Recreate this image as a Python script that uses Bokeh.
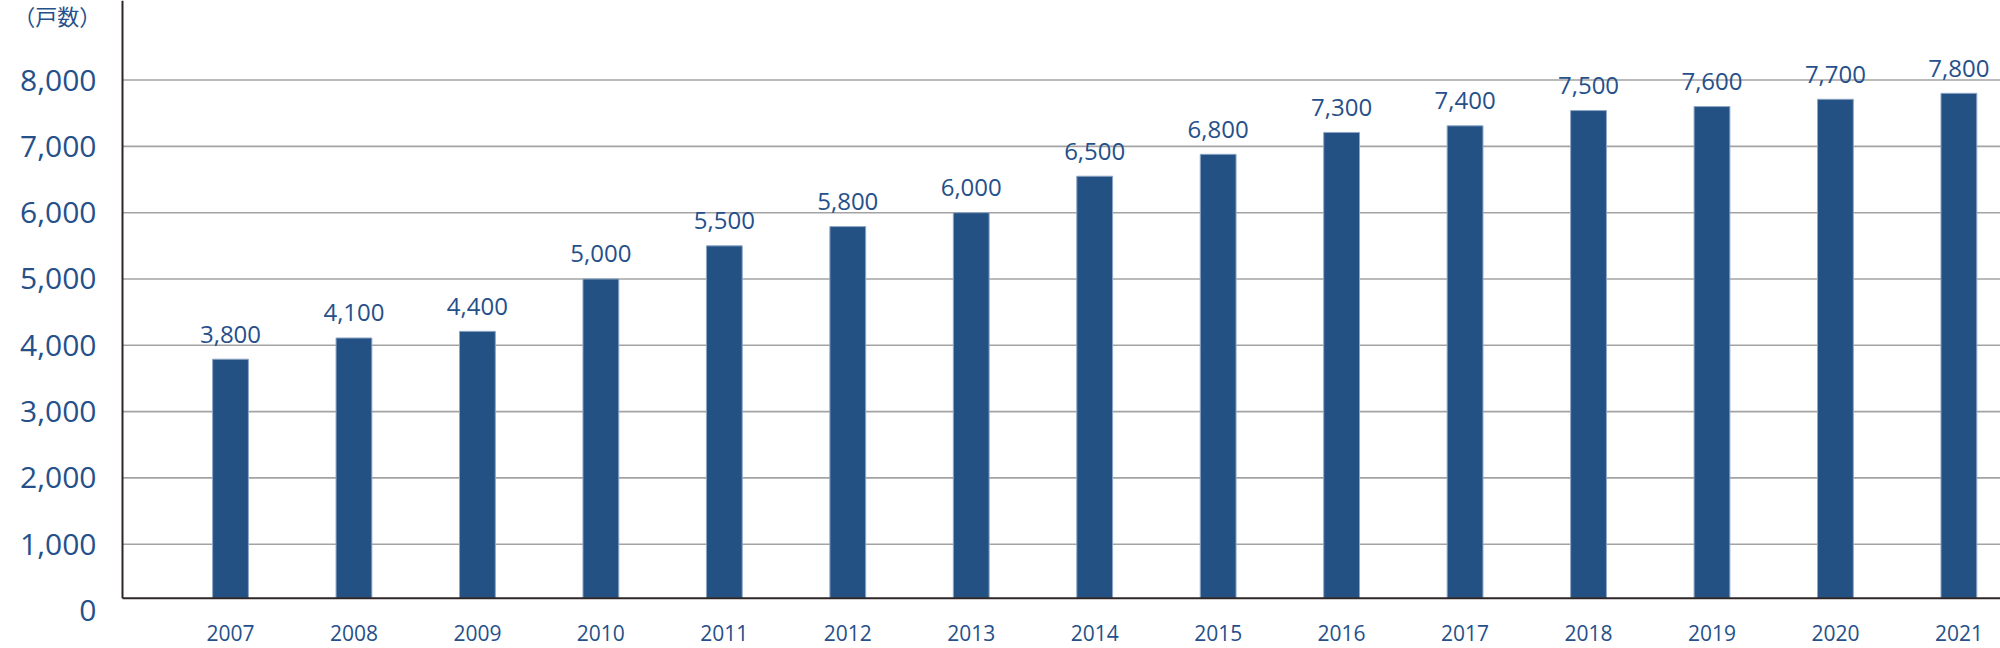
from bokeh.plotting import figure
from bokeh.models import Range1d, FixedTicker, Label, ColumnDataSource
from bokeh.core.properties import value
from bokeh.embed import file_html
from bokeh.resources import INLINE

years = ["2007", "2008", "2009", "2010", "2011", "2012", "2013", "2014",
         "2015", "2016", "2017", "2018", "2019", "2020", "2021"]
bar_values = [3790, 4110, 4210, 5000, 5500, 5790, 6000, 6550,
              6880, 7210, 7310, 7540, 7600, 7710, 7800]
value_labels = ["3,800", "4,100", "4,400", "5,000", "5,500", "5,800", "6,000", "6,500",
                "6,800", "7,300", "7,400", "7,500", "7,600", "7,700", "7,800"]
y_ticks = [0, 1000, 2000, 3000, 4000, 5000, 6000, 7000, 8000]
y_tick_labels = ["0", "1,000", "2,000", "3,000", "4,000", "5,000", "6,000", "7,000", "8,000"]
unit_label = "（戸数）"

BASE = 185          # value where the drawn baseline sits
YB, TOP = -573, 9200
XL, X0, X1 = -1.863, -0.8748, 14.337   # canvas left, axis position, right edge
TEXT = "#26508a"
BAR = "#245183"
FONT = "Open Sans"

xs = list(range(len(years)))
src = ColumnDataSource(dict(x=xs, top=bar_values, lab=value_labels))

p = figure(width=2000, height=648, output_backend="svg", toolbar_location=None,
           x_range=Range1d(XL, X1), y_range=Range1d(YB, TOP),
           min_border=0)
p.outline_line_color = None
p.background_fill_color = "white"
p.border_fill_color = "white"

# horizontal grid lines from the axis to the right edge
grid_y = y_ticks[1:]
p.segment(x0=[X0] * len(grid_y), y0=grid_y, x1=[X1] * len(grid_y), y1=grid_y,
          line_color="#a3a3a3", line_width=1.6)

p.vbar(x="x", top="top", bottom=BASE, width=0.29, source=src,
       fill_color=BAR, line_color="#8ea6c6", line_width=1)
p.text(x="x", y="top", text="lab", source=src, text_align="center", text_baseline="middle",
       y_offset=-25, text_font=value(FONT), text_font_size="24px", text_color=TEXT)

# axes
p.yaxis.fixed_location = X0
p.yaxis.ticker = FixedTicker(ticks=y_ticks)
p.yaxis.major_label_overrides = {t: l for t, l in zip(y_ticks, y_tick_labels)}
p.yaxis.axis_line_color = None
p.yaxis.major_tick_line_color = None
p.yaxis.minor_tick_line_color = None
p.yaxis.major_label_standoff = 20
p.yaxis.major_label_text_font = FONT
p.yaxis.major_label_text_font_size = "30px"
p.yaxis.major_label_text_color = TEXT

p.xaxis.fixed_location = 0
p.xaxis.ticker = FixedTicker(ticks=xs)
p.xaxis.major_label_overrides = {i: y for i, y in zip(xs, years)}
p.xaxis.axis_line_color = None
p.xaxis.major_tick_line_color = None
p.xaxis.minor_tick_line_color = None
p.xaxis.major_label_standoff = 8
p.xaxis.major_label_text_font = FONT
p.xaxis.major_label_text_font_size = "21px"
p.xaxis.major_label_text_color = TEXT

p.xgrid.grid_line_color = None
p.ygrid.grid_line_color = None

# baseline and vertical axis line
p.segment(x0=[X0], y0=[BASE], x1=[X1], y1=[BASE], line_color="#2e2626", line_width=2)
p.segment(x0=[X0], y0=[BASE], x1=[X0], y1=[TOP], line_color="#2e2626", line_width=2)

p.add_layout(Label(x=-1.76, y=8975, text=unit_label,
                   text_font="Noto Sans CJK JP", text_font_size="22px", text_color=TEXT,
                   text_baseline="middle", text_align="left"))

open("out.html", "w").write(file_html(p, INLINE))
